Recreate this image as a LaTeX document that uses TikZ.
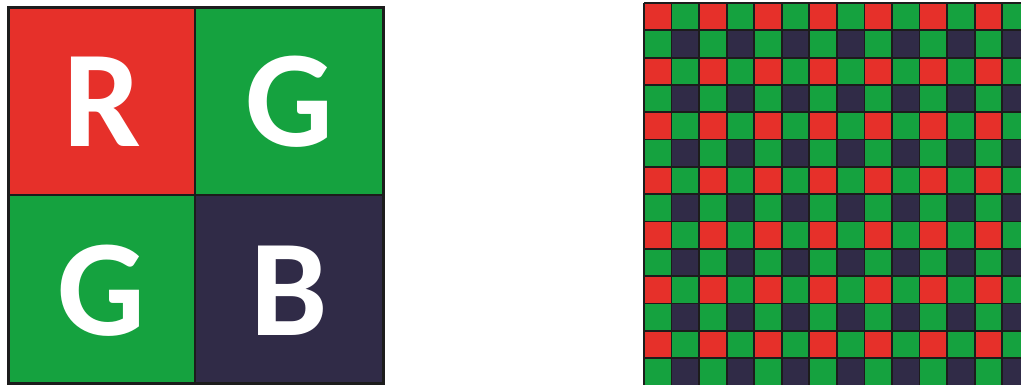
\documentclass[tikz,border=0pt]{standalone}
\usepackage{fontspec}
\setmainfont{Carlito}
\definecolor{bred}{HTML}{E6302A}
\definecolor{bgreen}{HTML}{15A23F}
\definecolor{bblue}{HTML}{302B47}
\definecolor{bline}{HTML}{1C1C1C}
\begin{document}
\begin{tikzpicture}[x=1pt,y=-1pt,
  letter/.style={text=white, font=\fontsize{138}{138}\selectfont\bfseries, inner sep=0pt},
  gridline/.style={draw=bline, line width=1.8pt},
  outerline/.style={draw=bline, line width=3pt},
  innerline/.style={draw=bline, line width=1.4pt}]
\useasboundingbox (0,0) rectangle (1021,385);
\begin{scope}
\clip (0,0) rectangle (1021,385);
% left 2x2 block
\fill[bred]   (8,8)     rectangle (195,195);
\fill[bgreen] (195,8)   rectangle (383,195);
\fill[bgreen] (8,195)   rectangle (195,383);
\fill[bblue]  (195,195) rectangle (383,383);
\draw[innerline] (195,8) -- (195,383);
\draw[innerline] (8,195) -- (383,195);
\draw[outerline] (8,8) rectangle (383,383);
\node[letter] (r)  at (102,102) {R};
\node[letter] (g1) at (289,102) {G};
\node[letter] (g2) at (101,291) {G};
\node[letter] (b)  at (289,291) {B};
% right Bayer grid
\def\cw{27.55}
\def\ch{27.32}
\foreach \i in {0,...,6} {
  \foreach \j in {0,...,6} {
    \fill[bred]   ({644+2*\i*\cw},{3+2*\j*\ch}) rectangle ++(\cw,\ch);
    \fill[bgreen] ({644+(2*\i+1)*\cw},{3+2*\j*\ch}) rectangle ++(\cw,\ch);
    \fill[bgreen] ({644+2*\i*\cw},{3+(2*\j+1)*\ch}) rectangle ++(\cw,\ch);
    \fill[bblue]  ({644+(2*\i+1)*\cw},{3+(2*\j+1)*\ch}) rectangle ++(\cw,\ch);
  }
}
\foreach \k in {0,...,14} {
  \draw[gridline] ({644+\k*\cw},3) -- ({644+\k*\cw},{3+14*\ch});
  \draw[gridline] (644,{3+\k*\ch}) -- ({644+14*\cw},{3+\k*\ch});
}
\end{scope}
\end{tikzpicture}
\end{document}
